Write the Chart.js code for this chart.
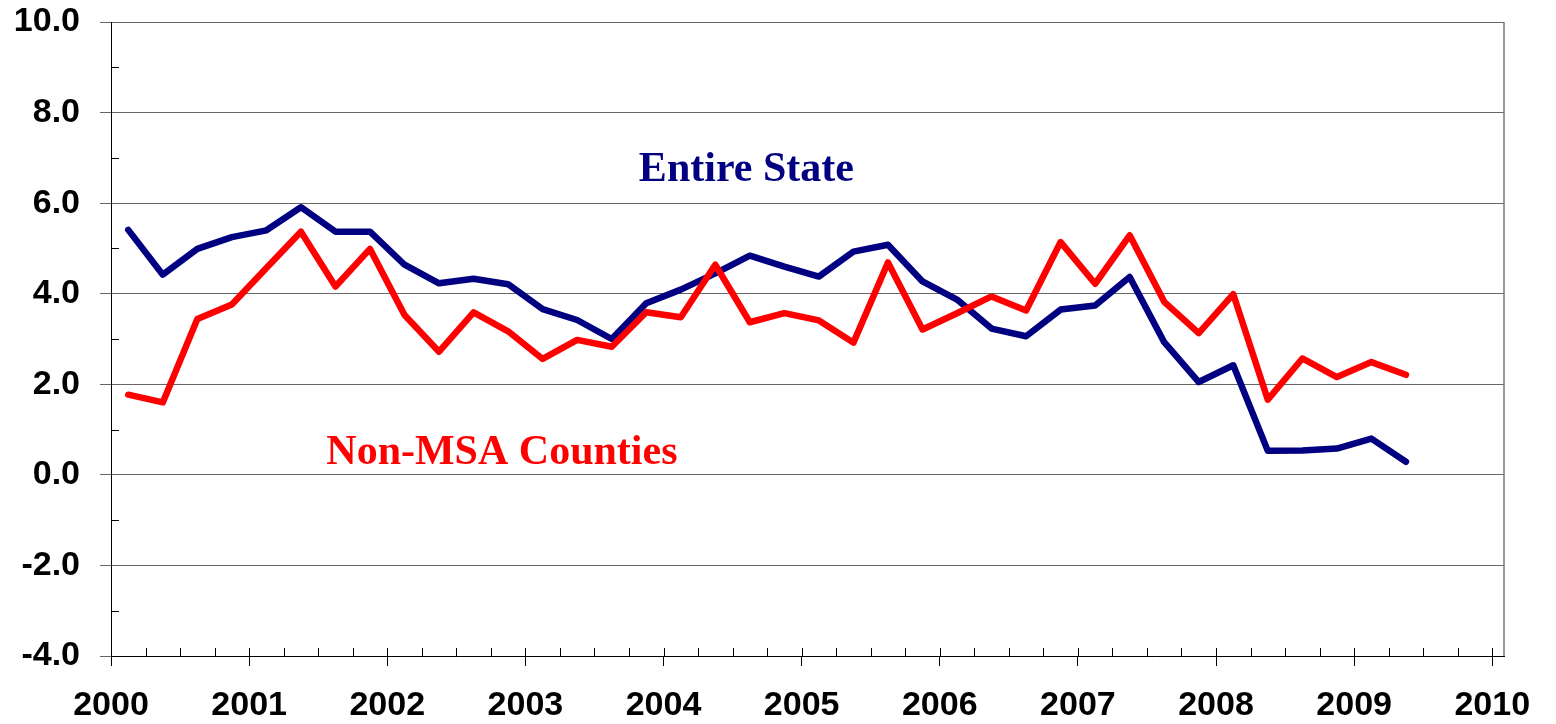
<!DOCTYPE html>
<html>
<head>
<meta charset="utf-8">
<script src="https://cdn.jsdelivr.net/npm/chart.js@4.4.1/dist/chart.umd.min.js"></script>
<style>
  html, body { margin: 0; padding: 0; background: #fff; }
  #wrap { width: 1556px; height: 724px; }
</style>
</head>
<body>
<div id="wrap"><canvas id="growthChart"></canvas></div>
<script>
// ── data (quarterly, plotted at mid-quarter)
const periods = [
  2000.125, 2000.375, 2000.625, 2000.875,
  2001.125, 2001.375, 2001.625, 2001.875,
  2002.125, 2002.375, 2002.625, 2002.875,
  2003.125, 2003.375, 2003.625, 2003.875,
  2004.125, 2004.375, 2004.625, 2004.875,
  2005.125, 2005.375, 2005.625, 2005.875,
  2006.125, 2006.375, 2006.625, 2006.875,
  2007.125, 2007.375, 2007.625, 2007.875,
  2008.125, 2008.375, 2008.625, 2008.875,
  2009.125, 2009.375
];
const entireState = [
  5.41, 4.42, 4.99, 5.25,
  5.40, 5.91, 5.37, 5.37,
  4.64, 4.23, 4.33, 4.21,
  3.66, 3.42, 3.00, 3.79,
  4.09, 4.45, 4.84, 4.60,
  4.38, 4.93, 5.08, 4.27,
  3.87, 3.23, 3.06, 3.65,
  3.74, 4.37, 2.93, 2.05,
  2.42, 0.53, 0.54, 0.58,
  0.80, 0.29
];
const nonMsa = [
  1.77, 1.60, 3.44, 3.76,
  4.57, 5.37, 4.16, 4.99,
  3.53, 2.72, 3.59, 3.17,
  2.56, 2.98, 2.83, 3.59,
  3.48, 4.64, 3.37, 3.57,
  3.41, 2.92, 4.69, 3.21,
  3.57, 3.94, 3.63, 5.14,
  4.22, 5.29, 3.82, 3.13,
  3.99, 1.66, 2.57, 2.16,
  2.49, 2.21
];
const yearTicks = [2000, 2001, 2002, 2003, 2004, 2005, 2006, 2007, 2008, 2009, 2010];
const valueTicks = [-4, -2, 0, 2, 4, 6, 8, 10];
const minorValueTicks = [-3, -1, 1, 3, 5, 7, 9];
const seriesLabels = ['Entire State', 'Non-MSA Counties'];

// text labels inside the plot (value coords, baseline)
const annotations = [
  { text: seriesLabels[0], x: 2004.60, y: 6.49, color: '#000080' },
  { text: seriesLabels[1], x: 2002.83, y: 0.24, color: '#ff0000' }
];

const TICK_FONT = { family: "'Liberation Sans', Arial, sans-serif", size: 34, weight: 'bold' };

// ── minor ticks, right border and text labels
const framePlugin = {
  id: 'frame',
  beforeDatasetsDraw(chart) {
    const { ctx, chartArea: a, scales: { x, y } } = chart;
    ctx.save();
    ctx.lineWidth = 1;
    ctx.strokeStyle = '#000';
    ctx.beginPath();
    for (let v = yearTicks[0]; v <= yearTicks[yearTicks.length - 1] + 0.001; v += 0.25) {
      const px = Math.round(x.getPixelForValue(v)) + 0.5;
      ctx.moveTo(px, a.bottom);
      ctx.lineTo(px, a.bottom - 8);
    }
    minorValueTicks.forEach(v => {
      const py = Math.round(y.getPixelForValue(v)) + 0.5;
      ctx.moveTo(a.left, py);
      ctx.lineTo(a.left + 8, py);
    });
    ctx.stroke();
    ctx.strokeStyle = '#777';
    ctx.lineWidth = 1.5;
    ctx.beginPath();
    ctx.moveTo(a.right, a.top);
    ctx.lineTo(a.right, a.bottom);
    ctx.stroke();
    ctx.restore();
  },
  afterDatasetsDraw(chart) {
    const { ctx, scales: { x, y } } = chart;
    ctx.save();
    ctx.font = "bold 42px 'Liberation Serif', 'Times New Roman', serif";
    ctx.textAlign = 'center';
    ctx.textBaseline = 'alphabetic';
    annotations.forEach(t => {
      ctx.fillStyle = t.color;
      ctx.fillText(t.text, x.getPixelForValue(t.x), y.getPixelForValue(t.y));
    });
    ctx.restore();
  }
};

const ctx = document.getElementById('growthChart');
new Chart(ctx, {
  type: 'line',
  data: {
    datasets: [
      {
        label: seriesLabels[1],
        data: periods.map((p, i) => ({ x: p, y: nonMsa[i] })),
        borderColor: '#ff0000',
        borderWidth: 6.5,
        pointRadius: 0,
        tension: 0,
        borderJoinStyle: 'round',
        borderCapStyle: 'round'
      },
      {
        label: seriesLabels[0],
        data: periods.map((p, i) => ({ x: p, y: entireState[i] })),
        borderColor: '#000080',
        borderWidth: 6.5,
        pointRadius: 0,
        tension: 0,
        borderJoinStyle: 'round',
        borderCapStyle: 'round'
      }
    ]
  },
  options: {
    responsive: true,
    maintainAspectRatio: false,
    animation: false,
    layout: { padding: { top: 22, right: 52, left: 0, bottom: 0 } },
    plugins: {
      legend: { display: false },
      tooltip: { enabled: false }
    },
    scales: {
      x: {
        type: 'linear',
        min: 2000,
        max: 2010.085,
        afterBuildTicks: s => { s.ticks = yearTicks.map(v => ({ value: v })); },
        afterFit: s => { s.height = 68; s.paddingLeft = 0; s.paddingRight = 0; },
        ticks: {
          callback: v => String(v),
          font: TICK_FONT,
          color: '#000',
          padding: 19,
          maxRotation: 0,
          autoSkip: false
        },
        grid: { drawOnChartArea: false, drawTicks: true, tickLength: 10, color: '#000' },
        border: { color: '#000', width: 1 }
      },
      y: {
        min: -4,
        max: 10,
        afterBuildTicks: s => { s.ticks = valueTicks.map(v => ({ value: v })); },
        afterFit: s => { s.width = 111; s.paddingTop = 0; s.paddingBottom = 0; },
        ticks: {
          callback: v => v.toFixed(1),
          font: TICK_FONT,
          color: '#000',
          padding: 20
        },
        grid: { color: '#666', lineWidth: 1, drawTicks: true, tickLength: 11 },
        border: { color: '#000', width: 1 }
      }
    }
  },
  plugins: [framePlugin]
});
</script>
</body>
</html>
